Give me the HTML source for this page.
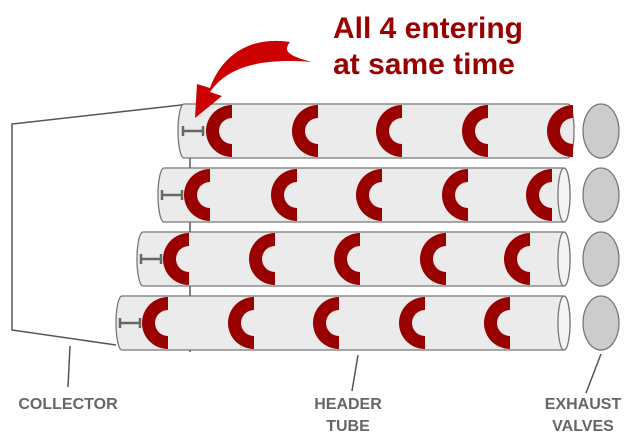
<!DOCTYPE html>
<html><head><style>body{margin:0;background:#fff}svg{display:block}</style></head>
<body>
<svg width="642" height="440" viewBox="0 0 642 440" xmlns="http://www.w3.org/2000/svg">
<defs>
<g id="C"><path d="M0,-26 A26,26 0 0 0 0,26 L0,13 A13,13 0 0 1 0,-13 Z" fill="#990000"/></g>
<g id="I" stroke="#666" stroke-width="2.5" fill="none"><path d="M0,-5 V5 M20,-5 V5 M0,0 H20"/></g>
</defs>
<!-- collector -->
<g stroke="#555" stroke-width="1.5" fill="none">
<path d="M190,104 L12,124 L12,330 L116,345"/>
<line x1="190" y1="104" x2="190" y2="352"/>
<line x1="70" y1="346" x2="68" y2="387"/>
<line x1="358" y1="355" x2="352" y2="391"/>
<line x1="601" y1="354" x2="586" y2="393"/>
</g>
<!-- tubes -->
<g stroke="#777" stroke-width="1.3">
<path d="M184,104 H568 A6,27 0 0 1 568,158 H184 A6,27 0 0 1 184,104 Z" fill="#ebebeb"/>
<path d="M164,168 H564 A6,27 0 0 1 564,222 H164 A6,27 0 0 1 164,168 Z" fill="#ebebeb"/>
<ellipse cx="564" cy="195" rx="6" ry="27" fill="#f4f4f4"/>
<path d="M143,232 H564 A6,27 0 0 1 564,286 H143 A6,27 0 0 1 143,232 Z" fill="#ebebeb"/>
<ellipse cx="564" cy="259" rx="6" ry="27" fill="#f4f4f4"/>
<path d="M122,296 H564 A6,27 0 0 1 564,350 H122 A6,27 0 0 1 122,296 Z" fill="#ebebeb"/>
<ellipse cx="564" cy="323" rx="6" ry="27" fill="#f4f4f4"/>
</g>
<!-- C shapes -->
<use href="#C" x="232" y="131"/><use href="#C" x="318" y="131"/><use href="#C" x="402" y="131"/><use href="#C" x="488" y="131"/><use href="#C" x="573" y="131"/>
<use href="#C" x="210" y="195"/><use href="#C" x="297" y="195"/><use href="#C" x="382" y="195"/><use href="#C" x="468" y="195"/><use href="#C" x="552" y="195"/>
<use href="#C" x="189" y="259"/><use href="#C" x="275" y="259"/><use href="#C" x="360" y="259"/><use href="#C" x="446" y="259"/><use href="#C" x="530" y="259"/>
<use href="#C" x="168" y="323"/><use href="#C" x="254" y="323"/><use href="#C" x="339" y="323"/><use href="#C" x="425" y="323"/><use href="#C" x="510" y="323"/>
<!-- I markers -->
<use href="#I" x="183" y="131"/><use href="#I" x="162" y="195"/><use href="#I" x="141" y="259"/><use href="#I" x="120" y="323"/>
<!-- valves -->
<g fill="#cccccc" stroke="#777" stroke-width="1.3">
<ellipse cx="601" cy="131" rx="18" ry="27"/>
<ellipse cx="601" cy="195" rx="18" ry="27"/>
<ellipse cx="601" cy="259" rx="18" ry="27"/>
<ellipse cx="601" cy="323" rx="18" ry="27"/>
</g>
<!-- arrow -->
<path d="M312,62 C290,56 282,52 290,42 C250,36 222,55 210,88 L197,84 L195,118 L222,96 L210,92 C228,66 262,58 312,62 Z" fill="#cc0000"/>
<!-- title -->
<g font-family="Liberation Sans, sans-serif" font-weight="bold" fill="#990000" font-size="30" text-anchor="middle">
<text x="428" y="38">All 4 entering</text>
<text x="424" y="74">at same time</text>
</g>
<g font-family="Liberation Sans, sans-serif" font-weight="bold" fill="#666" font-size="16" text-anchor="middle">
<text x="68" y="409">COLLECTOR</text>
<text x="348" y="409">HEADER</text>
<text x="348" y="431">TUBE</text>
<text x="583" y="409">EXHAUST</text>
<text x="583" y="431">VALVES</text>
</g>
</svg>
</body></html>
